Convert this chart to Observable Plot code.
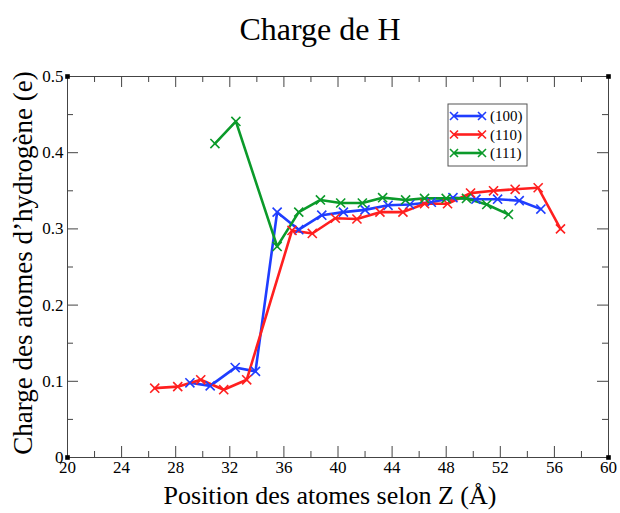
<!DOCTYPE html>
<html>
<head>
<meta charset="utf-8">
<script src="https://cdn.jsdelivr.net/npm/d3@7"></script>
<script src="https://cdn.jsdelivr.net/npm/@observablehq/plot@0.6"></script>
<style>
  html, body { margin: 0; padding: 0; background: white; }
</style>
</head>
<body>
<div id="chart"></div>
<script>
const title = "Charge de H";
const xLabel = "Position des atomes selon Z (Å)";
const yLabel = "Charge des atomes d’hydrogène (e)";
const seriesNames = ["(100)", "(110)", "(111)"];
const seriesColors = ["#1f3dff", "#ff1f1f", "#0b9a2a"];

const z100 = [29.05, 30.55, 32.4, 33.9, 35.5, 37.1, 38.8, 40.4, 42.0, 43.7, 45.3, 46.9, 48.5, 50.2, 51.8, 53.4, 55.0];
const q100 = [0.098, 0.094, 0.118, 0.113, 0.322, 0.299, 0.318, 0.322, 0.325, 0.331, 0.332, 0.335, 0.341, 0.339, 0.339, 0.337, 0.326];

const z110 = [26.45, 28.15, 29.85, 31.55, 33.25, 36.6, 38.1, 39.8, 41.4, 43.1, 44.8, 46.4, 48.1, 49.8, 51.5, 53.1, 54.8, 56.45];
const q110 = [0.091, 0.093, 0.102, 0.089, 0.102, 0.298, 0.294, 0.314, 0.313, 0.322, 0.322, 0.333, 0.333, 0.347, 0.350, 0.352, 0.354, 0.300];

const z111 = [30.9, 32.45, 35.5, 37.1, 38.7, 40.2, 41.8, 43.3, 45.0, 46.4, 48.0, 49.5, 51.0, 52.6];
const q111 = [0.412, 0.441, 0.277, 0.322, 0.338, 0.334, 0.334, 0.341, 0.338, 0.340, 0.340, 0.340, 0.332, 0.319];

const xDomain = [20, 60];
const yDomain = [0, 0.5];
const xMajor = [20, 24, 28, 32, 36, 40, 44, 48, 52, 56, 60];
const xMinor = [22, 26, 30, 34, 38, 42, 46, 50, 54, 58];
const yMajor = [0, 0.1, 0.2, 0.3, 0.4, 0.5];
const yMinor = [0.05, 0.15, 0.25, 0.35, 0.45];

const zs = [z100, z110, z111];
const qs = [q100, q110, q111];
const data = seriesNames.flatMap((s, i) => zs[i].map((z, j) => ({series: s, z, q: qs[i][j]})));
const corners = [[xDomain[0], yDomain[0]], [xDomain[1], yDomain[0]], [xDomain[0], yDomain[1]], [xDomain[1], yDomain[1]]];

const W = 620, H = 513, mt = 76, mb = 56, ml = 67, mr = 12;
const fw = W - ml - mr, fh = H - mt - mb;
const axisColor = "#444";
const font = "Liberation Serif";

const svg = Plot.plot({
  width: W, height: H,
  marginTop: mt, marginBottom: mb, marginLeft: ml, marginRight: mr,
  style: {fontFamily: font, background: "white", color: "black"},
  x: {domain: xDomain},
  y: {domain: yDomain},
  color: {domain: seriesNames, range: seriesColors},
  marks: [
    Plot.frame({stroke: axisColor, strokeWidth: 1}),
    // inward ticks
    Plot.tickX(xMajor, {x: d => d, insetTop: fh - 11, stroke: axisColor}),
    Plot.tickX(xMinor, {x: d => d, insetTop: fh - 6, stroke: axisColor}),
    Plot.tickX(xMajor, {x: d => d, insetBottom: fh - 11, stroke: axisColor}),
    Plot.tickX(xMinor, {x: d => d, insetBottom: fh - 6, stroke: axisColor}),
    Plot.tickY(yMajor, {y: d => d, insetRight: fw - 11, stroke: axisColor}),
    Plot.tickY(yMinor, {y: d => d, insetRight: fw - 6, stroke: axisColor}),
    Plot.tickY(yMajor, {y: d => d, insetLeft: fw - 11, stroke: axisColor}),
    Plot.tickY(yMinor, {y: d => d, insetLeft: fw - 6, stroke: axisColor}),
    Plot.axisX(xMajor, {tickSize: 0, tickPadding: 3, fontSize: 17, label: null, tickFormat: d => String(d)}),
    Plot.axisY(yMajor, {tickSize: 0, tickPadding: 4, fontSize: 17, label: null, tickFormat: d => String(d)}),
    Plot.dot(corners, {x: d => d[0], y: d => d[1], symbol: "square", fill: "black", r: 2.6}),
    Plot.line(data, {x: "z", y: "q", z: "series", stroke: "series", strokeWidth: 2.6}),
    Plot.dot(data, {x: "z", y: "q", stroke: "series", symbol: "times", r: 4.2, strokeWidth: 1.6}),
    Plot.text([title], {frameAnchor: "top", lineAnchor: "middle", textAnchor: "middle", dy: -47, dx: -18, fontSize: 32, fill: "black"}),
    Plot.text([xLabel], {frameAnchor: "bottom", lineAnchor: "middle", textAnchor: "middle", dy: 38, dx: -8, fontSize: 26, fill: "black"}),
    Plot.text([yLabel], {frameAnchor: "left", lineAnchor: "middle", textAnchor: "middle", dx: -44, dy: -4, rotate: -90, fontSize: 27, fill: "black"})
  ]
});

// legend
const lg = d3.select(svg).append("g");
const lx = 448, ly = 104, lw = 79, lh = 62;
lg.append("rect").attr("x", lx).attr("y", ly).attr("width", lw).attr("height", lh)
  .attr("fill", "white").attr("stroke", "#555").attr("stroke-width", 1);
seriesNames.forEach((s, i) => {
  const y = ly + 12 + i * 18.5;
  lg.append("line").attr("x1", lx + 6).attr("x2", lx + 34).attr("y1", y).attr("y2", y)
    .attr("stroke", seriesColors[i]).attr("stroke-width", 2.6);
  [lx + 6, lx + 34].forEach(cx => {
    lg.append("path").attr("d", `M${cx-4},${y-4}L${cx+4},${y+4}M${cx-4},${y+4}L${cx+4},${y-4}`)
      .attr("stroke", seriesColors[i]).attr("stroke-width", 1.6);
  });
  lg.append("text").attr("x", lx + 42).attr("y", y).attr("dy", "0.35em")
    .attr("text-anchor", "start")
    .attr("font-size", 15).attr("font-family", font).attr("fill", "black").text(s);
});

document.getElementById("chart").appendChild(svg);
</script>
</body>
</html>
